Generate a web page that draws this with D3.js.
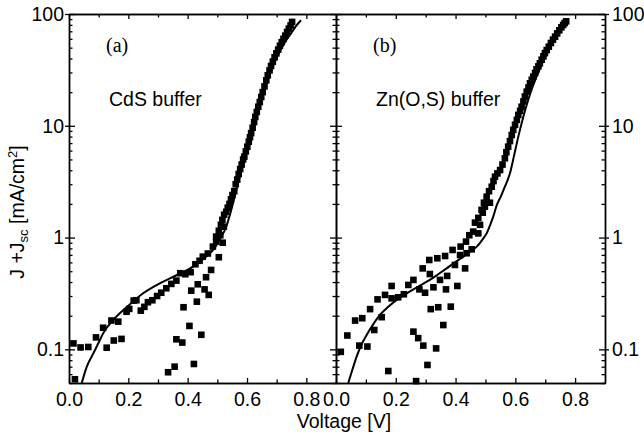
<!DOCTYPE html>
<html>
<head>
<meta charset="utf-8">
<script src="https://cdn.jsdelivr.net/npm/d3@7"></script>
<style>
  body { margin: 0; background: #fff; }
  svg { display: block; }
  text { font-family: Arial, "Liberation Sans", sans-serif; fill: #000; }
</style>
</head>
<body>
<div id="chart"></div>
<script>
// measured J+Jsc vs voltage, CdS buffer (panel a)
const cdsMeasured = [
  [0.015,0.113],[0.039,0.104],[0.065,0.105],[0.091,0.128],[0.115,0.156],[0.143,0.181],
  [0.166,0.177],[0.194,0.217],[0.203,0.230],[0.218,0.273],[0.227,0.275],[0.242,0.222],
  [0.254,0.240],[0.266,0.264],[0.281,0.275],[0.297,0.300],[0.311,0.321],[0.328,0.352],
  [0.345,0.385],[0.362,0.412],[0.375,0.480],[0.392,0.470],[0.410,0.490],[0.426,0.577],
  [0.440,0.620],[0.451,0.675],[0.468,0.720],[0.485,0.830],[0.496,0.920],[0.510,1.05],
  [0.522,1.25],
  // scattered lower branch
  [0.020,0.054],[0.127,0.1035],[0.151,0.120],[0.177,0.124],[0.334,0.0624],[0.356,0.070],
  [0.421,0.074],[0.362,0.123],[0.382,0.115],[0.446,0.135],[0.406,0.162],[0.386,0.238],
  [0.412,0.335],[0.431,0.267],[0.434,0.382],[0.457,0.344],[0.471,0.307],[0.462,0.442],
  [0.479,0.513],[0.505,0.667],[0.518,0.900],
  // steep forward part
  [0.496,1.02],[0.505,1.15],[0.512,1.30],[0.517,1.44],[0.523,1.60],[0.530,1.70],
  [0.535,1.85],[0.541,2.00],[0.546,2.20],[0.551,2.40],[0.557,2.60],[0.562,3.00],
  [0.567,3.30],[0.572,3.70],[0.577,4.10],[0.582,4.50],[0.587,5.00],[0.591,5.30],
  [0.596,5.90],[0.601,6.50],[0.606,7.20],[0.610,7.90],[0.614,8.60],[0.619,9.60],
  [0.624,10.8],[0.628,12.0],[0.633,13.3],[0.638,14.8],[0.643,16.3],[0.648,18.1],
  [0.653,20.0],[0.659,22.5],[0.665,25.5],[0.670,28.3],[0.676,31.3],[0.681,34.3],
  [0.687,37.5],[0.693,41.0],[0.699,44.5],[0.705,48.0],[0.711,52.0],[0.717,56.0],
  [0.723,60.0],[0.729,64.0],[0.735,69.0],[0.741,74.0],[0.747,79.0],[0.752,85.0]
];

// fitted curve, CdS buffer
const cdsFit = [
  [0.043,0.050],[0.060,0.070],[0.082,0.092],[0.100,0.115],[0.115,0.139],[0.149,0.183],
  [0.194,0.238],[0.250,0.318],[0.306,0.390],[0.362,0.460],[0.418,0.550],[0.462,0.675],
  [0.490,0.800],[0.507,0.950],[0.530,1.25],[0.550,1.90],[0.570,3.10],[0.590,4.90],
  [0.610,7.60],[0.630,11.5],[0.650,17.5],[0.670,26.0],[0.690,35.5],[0.710,46.0],
  [0.730,57.0],[0.750,68.0],[0.765,78.0],[0.782,88.0]
];

// measured J+Jsc vs voltage, Zn(O,S) buffer (panel b)
const znosMeasured = [
  [0.016,0.095],[0.038,0.133],[0.064,0.181],[0.088,0.190],[0.078,0.108],[0.105,0.106],
  [0.114,0.229],[0.128,0.149],[0.139,0.280],[0.153,0.194],[0.164,0.307],[0.175,0.064],
  [0.186,0.369],[0.186,0.286],[0.208,0.292],[0.227,0.311],[0.242,0.377],[0.259,0.418],
  [0.259,0.144],[0.275,0.126],[0.268,0.052],[0.279,0.344],[0.292,0.108],[0.290,0.530],
  [0.298,0.321],[0.306,0.0725],[0.312,0.630],[0.314,0.472],[0.317,0.229],[0.326,0.359],
  [0.335,0.102],[0.342,0.238],[0.348,0.418],[0.339,0.653],[0.359,0.165],[0.368,0.344],
  [0.365,0.684],[0.372,0.454],[0.384,0.241],[0.390,0.775],[0.398,0.569],[0.406,0.369],
  [0.415,0.698],[0.417,0.830],[0.432,0.530],[0.435,0.920],[0.437,0.724],[0.446,1.05],
  [0.454,0.785],[0.459,1.13],[0.465,1.36],[0.482,1.30],[0.476,1.09],[0.491,1.67],
  [0.498,1.89],[0.515,2.05],
  // steep forward part
  [0.476,1.50],[0.487,1.77],[0.495,2.05],[0.504,2.32],[0.512,2.60],[0.521,2.85],
  [0.527,3.20],[0.532,3.50],[0.540,3.75],[0.549,4.02],[0.557,4.50],[0.565,5.12],
  [0.570,5.80],[0.576,6.50],[0.582,7.30],[0.588,8.27],[0.593,9.20],[0.599,10.2],
  [0.605,11.3],[0.610,12.5],[0.616,13.6],[0.621,14.8],[0.627,16.5],[0.632,18.3],
  [0.638,20.2],[0.644,22.0],[0.649,24.0],[0.655,25.8],[0.660,27.5],[0.666,29.7],
  [0.671,32.0],[0.677,34.0],[0.682,36.2],[0.688,39.0],[0.694,41.8],[0.699,44.7],
  [0.705,47.6],[0.712,51.0],[0.719,55.0],[0.726,59.0],[0.733,62.7],[0.740,67.0],
  [0.747,71.5],[0.754,76.0],[0.760,79.8],[0.765,83.0],[0.770,86.0]
];

// fitted curve, Zn(O,S) buffer
const znosFit = [
  [0.041,0.050],[0.055,0.066],[0.069,0.086],[0.085,0.110],[0.103,0.135],[0.125,0.168],
  [0.147,0.203],[0.175,0.240],[0.203,0.277],[0.231,0.310],[0.259,0.344],[0.287,0.380],
  [0.314,0.418],[0.342,0.470],[0.370,0.530],[0.398,0.600],[0.426,0.675],[0.450,0.750],
  [0.471,0.830],[0.490,0.960],[0.504,1.09],[0.516,1.30],[0.526,1.54],[0.538,1.95],
  [0.552,2.35],[0.565,2.85],[0.582,3.76],[0.595,5.30],[0.610,8.00],[0.627,12.1],
  [0.643,17.0],[0.657,22.0],[0.671,27.5],[0.688,35.5],[0.705,44.5],[0.721,54.0],
  [0.738,65.0],[0.752,75.0],[0.766,85.0]
];

const xTickLabels = [0, 0.2, 0.4, 0.6, 0.8];
const xMinorTicks = [0.1, 0.3, 0.5, 0.7];
const yTickLabels = [0.1, 1, 10, 100];
const panelLabels = ["(a)", "(b)"];
const bufferLabels = ["CdS buffer", "Zn(O,S) buffer"];

const width = 644, height = 438;
const plotTop = 14, plotBottom = 383;
const fontSize = "19.5px";

const svg = d3.select("#chart").append("svg")
  .attr("width", width).attr("height", height);

const y = d3.scaleLog().domain([0.05, 100]).range([plotBottom, plotTop]);
const yMinor = y.ticks().filter(v => !yTickLabels.includes(v));

const panels = [
  { left: 69, right: 336, measured: cdsMeasured, fit: cdsFit },
  { left: 336, right: 605, measured: znosMeasured, fit: znosFit }
];

function styleAxis(g) {
  g.selectAll("path, line").attr("stroke", "#000").attr("stroke-width", 1.3);
}

panels.forEach((p, i) => {
  const x = d3.scaleLinear().domain([0, 0.9]).range([p.left, p.right]);
  const g = svg.append("g");

  // inward ticks on all four sides
  g.append("g").attr("transform", `translate(0,${plotBottom})`)
    .call(d3.axisBottom(x).tickValues(xTickLabels).tickSize(-5).tickSizeOuter(0).tickFormat(""))
    .call(styleAxis);
  g.append("g").attr("transform", `translate(0,${plotBottom})`)
    .call(d3.axisBottom(x).tickValues(xMinorTicks).tickSize(-3.5).tickSizeOuter(0).tickFormat(""))
    .call(styleAxis);
  g.append("g").attr("transform", `translate(0,${plotTop})`)
    .call(d3.axisTop(x).tickValues(xTickLabels).tickSize(-5).tickSizeOuter(0).tickFormat(""))
    .call(styleAxis);
  g.append("g").attr("transform", `translate(0,${plotTop})`)
    .call(d3.axisTop(x).tickValues(xMinorTicks).tickSize(-3.5).tickSizeOuter(0).tickFormat(""))
    .call(styleAxis);
  g.append("g").attr("transform", `translate(${p.left},0)`)
    .call(d3.axisLeft(y).tickValues(yTickLabels).tickSize(-6).tickSizeOuter(0).tickFormat(""))
    .call(styleAxis);
  g.append("g").attr("transform", `translate(${p.left},0)`)
    .call(d3.axisLeft(y).tickValues(yMinor).tickSize(-3.5).tickSizeOuter(0).tickFormat(""))
    .call(styleAxis);
  g.append("g").attr("transform", `translate(${p.right},0)`)
    .call(d3.axisRight(y).tickValues(yTickLabels).tickSize(-6).tickSizeOuter(0).tickFormat(""))
    .call(styleAxis);
  g.append("g").attr("transform", `translate(${p.right},0)`)
    .call(d3.axisRight(y).tickValues(yMinor).tickSize(-3.5).tickSizeOuter(0).tickFormat(""))
    .call(styleAxis);

  // x tick labels
  const xl = g.append("g").attr("transform", `translate(0,${plotBottom})`)
    .call(d3.axisBottom(x).tickValues(xTickLabels).tickSize(0).tickPadding(9)
      .tickFormat(d3.format(".1f")));
  xl.select(".domain").remove();
  xl.selectAll("text").attr("font-size", fontSize).attr("font-family", null);

  // fit line
  const line = d3.line()
    .x(d => x(d[0])).y(d => y(d[1]))
    .curve(d3.curveMonotoneX);
  g.append("path").datum(p.fit)
    .attr("d", line)
    .attr("fill", "none").attr("stroke", "#000").attr("stroke-width", 2);

  // measured squares
  const s = 6.6;
  g.append("g").selectAll("rect").data(p.measured).enter().append("rect")
    .attr("x", d => x(d[0]) - s / 2).attr("y", d => y(d[1]) - s / 2)
    .attr("width", s).attr("height", s).attr("fill", "#000");

  // annotations
  g.append("text").attr("x", p.left + 37).attr("y", 52)
    .style("font-family", "'Times New Roman', 'Liberation Serif', serif")
    .attr("font-size", "20px").text(panelLabels[i]);
  g.append("text").attr("x", p.left + 40).attr("y", 106)
    .attr("font-size", fontSize).text(bufferLabels[i]);
});

// outer y axes with labels
const yl = svg.append("g").attr("transform", "translate(69,0)")
  .call(d3.axisLeft(y).tickValues(yTickLabels).tickSize(4).tickSizeOuter(0).tickPadding(1)
    .tickFormat(d3.format("~g")))
  .call(styleAxis);
yl.selectAll("text").attr("font-size", fontSize).attr("font-family", null);

const yr = svg.append("g").attr("transform", "translate(605,0)")
  .call(d3.axisRight(y).tickValues(yTickLabels).tickSize(4).tickSizeOuter(0).tickPadding(3)
    .tickFormat(d3.format("~g")))
  .call(styleAxis);
yr.selectAll("text").attr("font-size", fontSize).attr("font-family", null);

// axis titles
svg.append("text").attr("x", 344).attr("y", 428)
  .attr("text-anchor", "middle").attr("font-size", fontSize).text("Voltage [V]");

const yTitle = svg.append("text")
  .attr("transform", "translate(24,212) rotate(-90)")
  .attr("text-anchor", "middle").attr("font-size", fontSize);
yTitle.append("tspan").text("J +J");
yTitle.append("tspan").attr("font-size", "13px").attr("baseline-shift", "-30%").text("sc");
yTitle.append("tspan").text(" [mA/cm");
yTitle.append("tspan").attr("font-size", "13px").attr("baseline-shift", "super").text("2");
yTitle.append("tspan").text("]");
</script>
</body>
</html>
